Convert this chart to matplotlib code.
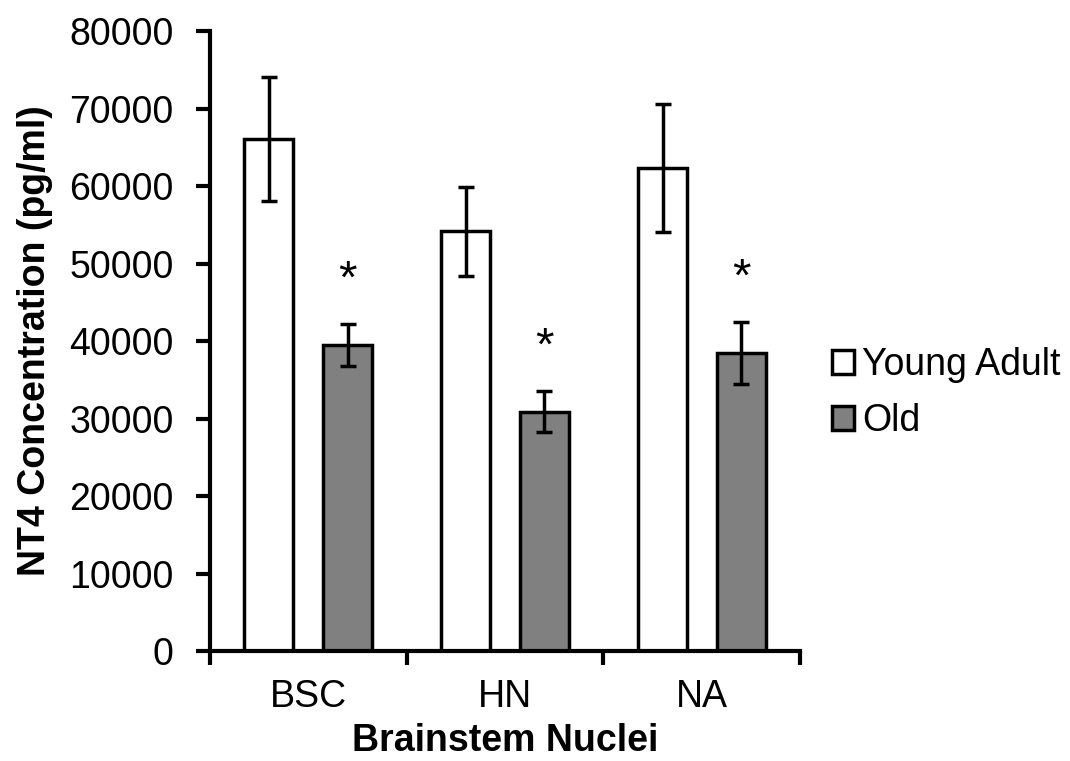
import matplotlib
matplotlib.use("Agg")
import matplotlib.pyplot as plt
import numpy as np

categories = ["BSC", "HN", "NA"]
young_adult = [66100, 54200, 62300]
young_err = [8000, 5750, 8250]
old = [39500, 30900, 38450]
old_err = [2700, 2650, 4000]
significant = [True, True, True]
series_names = ["Young Adult", "Old"]
y_ticks = [0, 10000, 20000, 30000, 40000, 50000, 60000, 70000, 80000]

plt.rcParams['font.family'] = ['Liberation Sans', 'DejaVu Sans']

fig = plt.figure(figsize=(10.7, 7.61), dpi=100)
ax = fig.add_axes([0.196, 0.1445, 0.552, 0.8145])

x = np.arange(len(categories))
w = 0.25
off = 0.2
ax.bar(x - off, young_adult, w, color='white', edgecolor='black', linewidth=2.5,
       label=series_names[0], zorder=2)
ax.bar(x + off, old, w, color='#808080', edgecolor='black', linewidth=2.5,
       label=series_names[1], zorder=2)
ax.errorbar(x - off, young_adult, yerr=young_err, fmt='none', ecolor='black',
            elinewidth=2.5, capsize=6, capthick=2.5, zorder=3)
ax.errorbar(x + off, old, yerr=old_err, fmt='none', ecolor='black',
            elinewidth=2.5, capsize=6, capthick=2.5, zorder=3)

for i, s in enumerate(significant):
    if s:
        ax.text(x[i] + off, old[i] + old_err[i] + 5600, '*', ha='center', va='center',
                fontsize=34)

fs = 27
ax.set_xlim(-0.5, len(categories) - 0.5)
ax.set_ylim(0, 80000)
ax.set_yticks(y_ticks)
ax.set_yticklabels([str(v) for v in y_ticks], fontsize=fs)
ax.set_xticks(x)
ax.set_xticklabels(categories, fontsize=fs)
ax.set_xticks(np.arange(-0.5, len(categories)), minor=True)
ax.tick_params(axis='x', which='major', length=0, pad=20)
ax.tick_params(axis='x', which='minor', length=10, width=3, direction='out')
ax.tick_params(axis='y', length=10, width=3, direction='out', pad=16)

for sp in ['top', 'right']:
    ax.spines[sp].set_visible(False)
for sp in ['left', 'bottom']:
    ax.spines[sp].set_linewidth(3)

ax.set_ylabel('NT4 Concentration (pg/ml)', fontsize=fs, fontweight='bold', labelpad=12)
ax.set_xlabel('Brainstem Nuclei', fontsize=fs, fontweight='bold', labelpad=6)

leg = ax.legend(loc='center left', bbox_to_anchor=(1.028, 0.416), frameon=False,
                fontsize=fs, handlelength=0.6, handleheight=0.6, handletextpad=0.2,
                labelspacing=0.55, borderaxespad=0)
for h in leg.legend_handles:
    h.set_linewidth(2.5)

fig.savefig('out.png', dpi=100)
